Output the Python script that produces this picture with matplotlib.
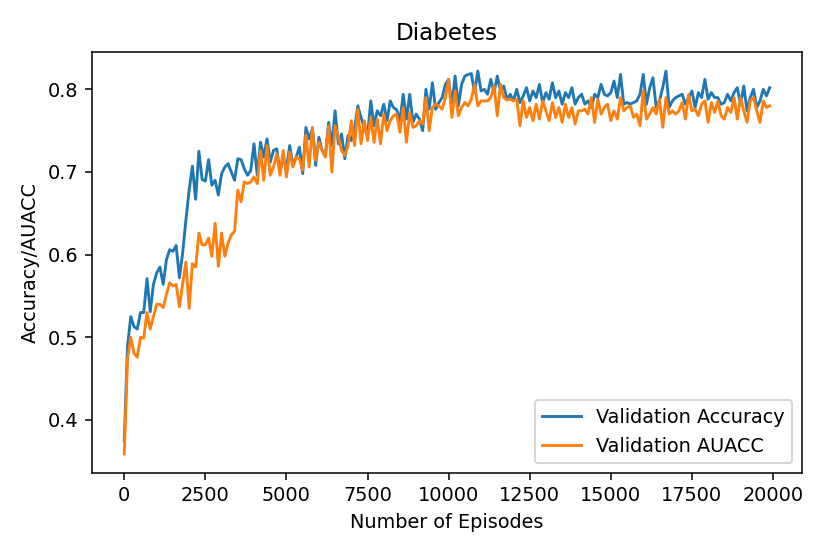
import matplotlib
matplotlib.use('Agg')
import matplotlib.pyplot as plt

# episodes logged every 100 steps
episodes = list(range(0, 20000, 100))

val_accuracy = [
    0.375, 0.489, 0.525, 0.513, 0.510, 0.530, 0.530, 0.571, 0.531, 0.564,
    0.578, 0.585, 0.564, 0.594, 0.606, 0.604, 0.611, 0.572, 0.602, 0.642,
    0.678, 0.707, 0.667, 0.725, 0.691, 0.689, 0.715, 0.684, 0.690, 0.672,
    0.698, 0.706, 0.710, 0.700, 0.690, 0.716, 0.715, 0.704, 0.696, 0.702,
    0.734, 0.696, 0.736, 0.718, 0.740, 0.712, 0.726, 0.728, 0.700, 0.718,
    0.704, 0.732, 0.708, 0.718, 0.730, 0.698, 0.754, 0.740, 0.752, 0.708,
    0.742, 0.726, 0.720, 0.760, 0.732, 0.774, 0.734, 0.746, 0.716, 0.744,
    0.738, 0.752, 0.780, 0.766, 0.754, 0.744, 0.786, 0.756, 0.774, 0.768,
    0.782, 0.762, 0.786, 0.778, 0.775, 0.762, 0.794, 0.764, 0.794, 0.760,
    0.770, 0.764, 0.750, 0.800, 0.776, 0.808, 0.776, 0.784, 0.790, 0.806,
    0.812, 0.780, 0.816, 0.780, 0.806, 0.816, 0.818, 0.819, 0.796, 0.822,
    0.798, 0.800, 0.794, 0.812, 0.796, 0.816, 0.798, 0.804, 0.788, 0.794,
    0.786, 0.800, 0.784, 0.792, 0.802, 0.786, 0.798, 0.790, 0.806, 0.784,
    0.796, 0.788, 0.808, 0.790, 0.798, 0.782, 0.796, 0.790, 0.802, 0.782,
    0.790, 0.794, 0.782, 0.786, 0.778, 0.794, 0.790, 0.806, 0.794, 0.792,
    0.796, 0.810, 0.790, 0.818, 0.782, 0.784, 0.782, 0.784, 0.786, 0.794,
    0.818, 0.782, 0.802, 0.814, 0.778, 0.786, 0.802, 0.822, 0.778, 0.786,
    0.790, 0.792, 0.794, 0.782, 0.790, 0.798, 0.778, 0.796, 0.790, 0.812,
    0.788, 0.796, 0.790, 0.790, 0.782, 0.784, 0.794, 0.786, 0.796, 0.802,
    0.782, 0.804, 0.774, 0.790, 0.800, 0.778, 0.786, 0.800, 0.792, 0.802,
]

val_auacc = [
    0.359, 0.474, 0.500, 0.481, 0.476, 0.500, 0.499, 0.530, 0.510, 0.525,
    0.540, 0.540, 0.536, 0.552, 0.566, 0.562, 0.564, 0.537, 0.565, 0.591,
    0.535, 0.589, 0.585, 0.626, 0.612, 0.612, 0.620, 0.598, 0.638, 0.586,
    0.626, 0.598, 0.614, 0.624, 0.628, 0.678, 0.664, 0.688, 0.686, 0.688,
    0.694, 0.686, 0.726, 0.690, 0.732, 0.696, 0.706, 0.722, 0.696, 0.726,
    0.694, 0.724, 0.706, 0.718, 0.716, 0.702, 0.745, 0.706, 0.754, 0.714,
    0.736, 0.726, 0.718, 0.756, 0.700, 0.756, 0.742, 0.726, 0.720, 0.732,
    0.762, 0.732, 0.776, 0.734, 0.762, 0.738, 0.766, 0.736, 0.764, 0.734,
    0.770, 0.750, 0.762, 0.768, 0.770, 0.748, 0.778, 0.736, 0.772, 0.754,
    0.756, 0.762, 0.758, 0.790, 0.750, 0.778, 0.782, 0.780, 0.776, 0.790,
    0.812, 0.766, 0.798, 0.768, 0.778, 0.784, 0.780, 0.788, 0.806, 0.780,
    0.786, 0.786, 0.786, 0.790, 0.804, 0.768, 0.806, 0.790, 0.787, 0.788,
    0.786, 0.788, 0.756, 0.786, 0.766, 0.778, 0.762, 0.782, 0.764, 0.786,
    0.774, 0.762, 0.784, 0.766, 0.778, 0.760, 0.782, 0.766, 0.778, 0.758,
    0.774, 0.774, 0.776, 0.770, 0.790, 0.760, 0.788, 0.770, 0.778, 0.782,
    0.762, 0.774, 0.764, 0.790, 0.774, 0.778, 0.780, 0.766, 0.770, 0.756,
    0.798, 0.764, 0.770, 0.778, 0.770, 0.788, 0.754, 0.790, 0.770, 0.774,
    0.770, 0.774, 0.784, 0.764, 0.794, 0.774, 0.776, 0.768, 0.782, 0.786,
    0.760, 0.784, 0.772, 0.786, 0.768, 0.764, 0.778, 0.772, 0.790, 0.764,
    0.790, 0.774, 0.760, 0.786, 0.790, 0.774, 0.760, 0.786, 0.778, 0.780,
]

DPI = 138.33
fig = plt.figure(figsize=(830 / DPI, 554 / DPI), dpi=DPI)
ax = fig.add_axes([92 / 830, 1 - 473 / 554, 710 / 830, 421 / 554])

ax.plot(episodes, val_accuracy, color='#1f77b4', linewidth=1.5, label='Validation Accuracy')
ax.plot(episodes, val_auacc, color='#ff7f0e', linewidth=1.5, label='Validation AUACC')

ax.set_title('Diabetes', fontsize=12)
ax.set_xlabel('Number of Episodes', fontsize=10)
ax.set_ylabel('Accuracy/AUACC', fontsize=10)
ax.tick_params(labelsize=10)
ax.legend(loc='lower right', fontsize=10)

fig.savefig('out.png', dpi=DPI)
